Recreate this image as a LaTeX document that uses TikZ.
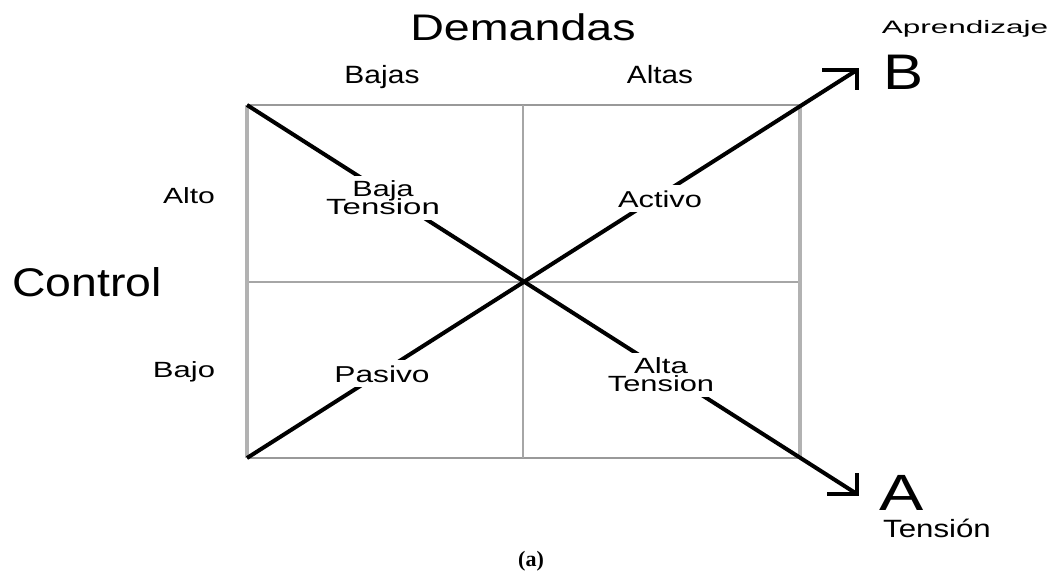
\documentclass[tikz,border=0pt]{standalone}
\usepackage{fontspec}
\setmainfont{Liberation Sans}
\newfontfamily\capserif{Liberation Serif}
\usepackage{graphicx}
\newcommand{\hs}[2]{\scalebox{#1}[1]{#2}}
\lineskiplimit=-100pt
\begin{document}
\begin{tikzpicture}[x=1pt,y=-1pt,
  lbl/.style={anchor=base,inner sep=0pt,text=black},
  fsz/.style={font=\fontsize{#1}{#1}\selectfont},
  cut/.style={fill=white,inner xsep=2pt,inner ysep=5pt,text=black,align=center},
  twoline/.style={font=\fontsize{22}{18}\selectfont},
  frame/.style={draw=gray!80,line width=2.5pt},
  side/.style={draw=gray!60,line width=4pt},
  mid/.style={draw=gray!70,line width=1.8pt},
  diag/.style={draw=black,line width=4pt},
  head/.style={draw=black,line width=4pt,line join=miter}]
\useasboundingbox (0,0) rectangle (1052,571);
\fill[white] (0,0) rectangle (1052,571);
% grid
\coordinate (tl) at (247,105);
\coordinate (tr) at (800,105);
\coordinate (bl) at (247,458);
\coordinate (br) at (800,458);
\coordinate (tm) at (523,105);
\coordinate (bm) at (523,458);
\coordinate (ml) at (247,282);
\coordinate (mr) at (800,282);
\coordinate (tipA) at (857,494);
\coordinate (tipB) at (857,70);
\draw[frame] (tl) -- (tr);
\draw[frame] (bl) -- (br);
\draw[mid] (tm) -- (bm);
\draw[mid] (ml) -- (mr);
\draw[side] (tl) -- (bl);
\draw[side] (tr) -- (br);
% diagonals
\draw[diag] (tl) -- (tipA);
\draw[diag] (bl) -- (tipB);
\draw[head] (tipA) ++(-30,0) -- (tipA) -- ++(0,-21);
\draw[head] (tipB) ++(-35,0) -- (tipB) -- ++(0,20);
% labels
\node[lbl,fsz=37] (dem) at (523,40) {\hs{1.26}{Demandas}};
\node[lbl,fsz=25] (bajas) at (382,83) {\hs{1.2}{Bajas}};
\node[lbl,fsz=25] (altas) at (660,83) {\hs{1.19}{Altas}};
\node[lbl,fsz=22] (alto) at (189,203) {\hs{1.37}{Alto}};
\node[lbl,fsz=22] (bajo) at (184,377) {\hs{1.41}{Bajo}};
\node[lbl,fsz=40] (control) at (87,296) {\hs{1.16}{Control}};
\node[cut,twoline] (bajaten) at (383,198) {\hs{1.39}{Baja}\\\hs{1.5}{Tension}};
\node[cut,anchor=base,fsz=23] (activo) at (660,207) {\hs{1.34}{Activo}};
\node[cut,anchor=base,fsz=23] (pasivo) at (382,382) {\hs{1.38}{Pasivo}};
\node[cut,twoline] (altaten) at (661,375) {\hs{1.42}{Alta}\\\hs{1.4}{Tension}};
\node[lbl,fsz=18] (aprend) at (965,33) {\hs{1.75}{Aprendizaje}};
\node[lbl,fsz=50] (B) at (903,89) {\hs{1.2}{B}};
\node[lbl,fsz=51] (A) at (902,510) {\hs{1.3}{A}};
\node[lbl,fsz=25] (tension) at (937,537) {\hs{1.25}{Tensión}};
\node[lbl,font=\capserif\bfseries\fontsize{22}{22}\selectfont] (cap) at (531,566) {(a)};
\end{tikzpicture}
\end{document}
